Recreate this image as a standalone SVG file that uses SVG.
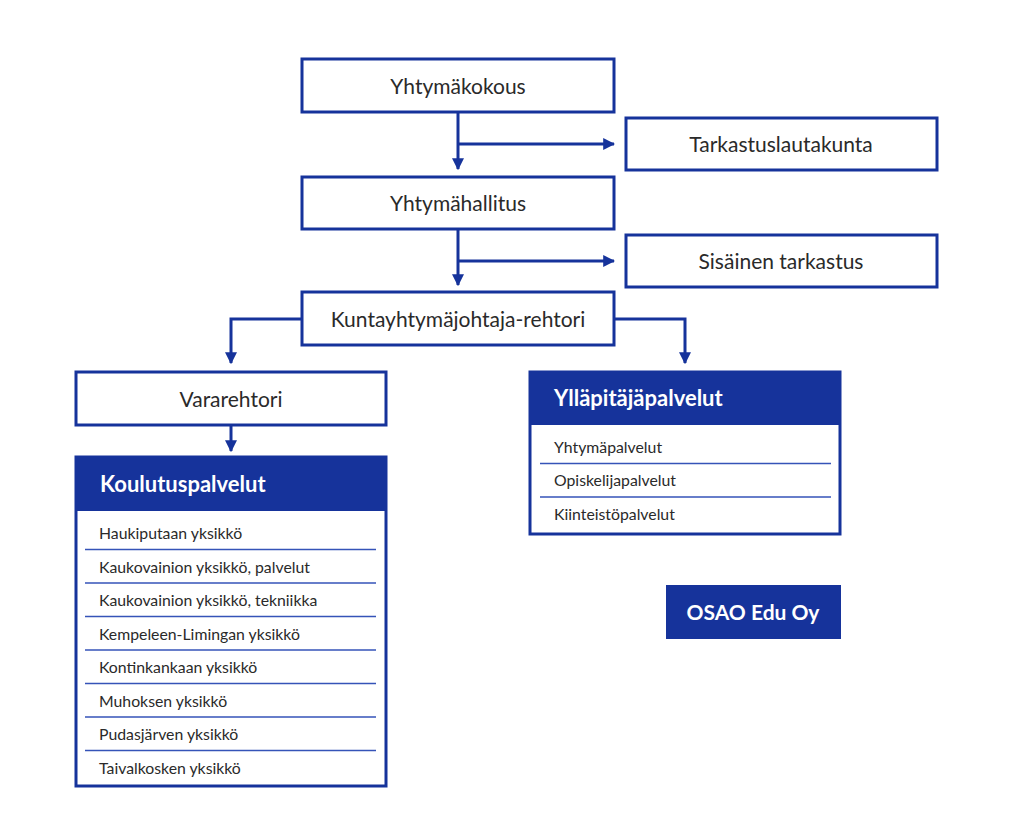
<svg xmlns="http://www.w3.org/2000/svg" width="1024" height="818" viewBox="0 0 1024 818">
<defs>
<marker id="ah" viewBox="0 0 10 10" refX="9" refY="5" markerWidth="12" markerHeight="12" markerUnits="userSpaceOnUse" orient="auto">
<path d="M0,0 L10,5 L0,10 Z" fill="#16339b"/>
</marker>
</defs>
<style>
.box{fill:#fff;stroke:#16339b;stroke-width:3}
.hdr{fill:#16339b}
.t{font-family:Lato,"Liberation Sans",sans-serif;font-size:21px;fill:#2a2a2a;text-anchor:middle;dominant-baseline:central}
.it{font-family:Lato,"Liberation Sans",sans-serif;font-size:15.8px;fill:#2a2a2a;dominant-baseline:central}
.h{font-family:Lato,"Liberation Sans",sans-serif;font-size:22px;font-weight:bold;fill:#fff;dominant-baseline:central}
.sep{stroke:#3553b8;stroke-width:1.5}
.c{fill:none;stroke:#16339b;stroke-width:3;marker-end:url(#ah)}
</style>
<rect width="1024" height="818" fill="#fff"/>
<g id="connectors">
<path class="c" d="M458,112 V169"/>
<path class="c" d="M458,144 H614"/>
<path class="c" d="M458,229 V285"/>
<path class="c" d="M458,261 H614"/>
<path class="c" d="M302,319 H231 V363"/>
<path class="c" d="M614,319 H685 V363"/>
<path class="c" d="M231,425 V451"/>
</g>
<g id="yhtymakokous">
<rect class="box" x="302" y="59" width="312" height="53"/>
<text class="t" x="458" y="85">Yhtymäkokous</text>
</g>
<g id="tarkastuslautakunta">
<rect class="box" x="626" y="118" width="311" height="52"/>
<text class="t" x="781" y="143">Tarkastuslautakunta</text>
</g>
<g id="yhtymahallitus">
<rect class="box" x="302" y="177" width="312" height="52"/>
<text class="t" x="458" y="202">Yhtymähallitus</text>
</g>
<g id="sisainen">
<rect class="box" x="626" y="235" width="311" height="52"/>
<text class="t" x="781" y="260">Sisäinen tarkastus</text>
</g>
<g id="kuntayhtymajohtaja">
<rect class="box" x="302" y="292" width="312" height="53"/>
<text class="t" x="458" y="318">Kuntayhtymäjohtaja-rehtori</text>
</g>
<g id="vararehtori">
<rect class="box" x="76" y="372" width="310" height="53"/>
<text class="t" x="231" y="398">Vararehtori</text>
</g>
<g id="koulutuspalvelut">
<rect class="box" x="76" y="457" width="310" height="329"/>
<rect class="hdr" x="76" y="457" width="310" height="54"/>
<text class="h" x="100" y="483">Koulutuspalvelut</text>
<text class="it" x="99" y="532">Haukiputaan yksikkö</text>
<line class="sep" x1="85" y1="549.5" x2="376" y2="549.5"/>
<text class="it" x="99" y="566">Kaukovainion yksikkö, palvelut</text>
<line class="sep" x1="85" y1="583" x2="376" y2="583"/>
<text class="it" x="99" y="599">Kaukovainion yksikkö, tekniikka</text>
<line class="sep" x1="85" y1="616.5" x2="376" y2="616.5"/>
<text class="it" x="99" y="633">Kempeleen-Limingan yksikkö</text>
<line class="sep" x1="85" y1="650" x2="376" y2="650"/>
<text class="it" x="99" y="666">Kontinkankaan yksikkö</text>
<line class="sep" x1="85" y1="683.5" x2="376" y2="683.5"/>
<text class="it" x="99" y="700">Muhoksen yksikkö</text>
<line class="sep" x1="85" y1="717" x2="376" y2="717"/>
<text class="it" x="99" y="733">Pudasjärven yksikkö</text>
<line class="sep" x1="85" y1="750.5" x2="376" y2="750.5"/>
<text class="it" x="99" y="767">Taivalkosken yksikkö</text>
</g>
<g id="yllapitajapalvelut">
<rect class="box" x="530" y="372" width="310" height="162"/>
<rect class="hdr" x="530" y="371" width="310" height="54"/>
<text class="h" x="554" y="397">Ylläpitäjäpalvelut</text>
<text class="it" x="554" y="446">Yhtymäpalvelut</text>
<line class="sep" x1="540" y1="463.5" x2="831" y2="463.5"/>
<text class="it" x="554" y="479">Opiskelijapalvelut</text>
<line class="sep" x1="540" y1="497" x2="831" y2="497"/>
<text class="it" x="554" y="513">Kiinteistöpalvelut</text>
</g>
<g id="osao">
<rect class="hdr" x="666" y="585" width="175" height="54"/>
<text class="h" x="753" y="611" text-anchor="middle" style="font-size:21px">OSAO Edu Oy</text>
</g>
</svg>
